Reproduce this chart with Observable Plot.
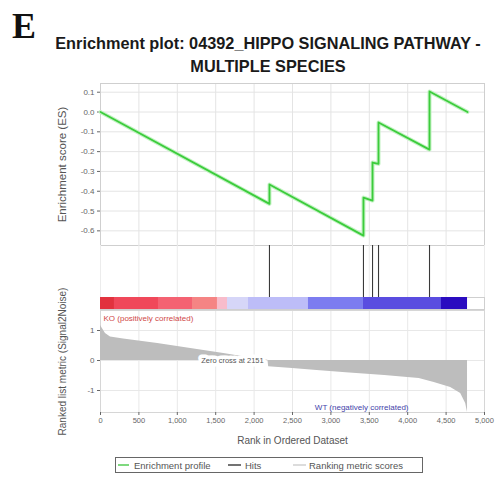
<!DOCTYPE html>
<html><head><meta charset="utf-8">
<script src="https://cdn.jsdelivr.net/npm/d3@7"></script>
<script src="https://cdn.jsdelivr.net/npm/@observablehq/plot@0.6"></script>
<style>
body{margin:0;background:#fff;}
#c{position:relative;width:495px;height:478px;overflow:hidden;background:#fff;font-family:"Liberation Sans",Arial,sans-serif;}
</style></head><body><div id="c"></div>
<script>
// ---- data ----
const esRank  = [0, 2200, 2200, 3424, 3424, 3542, 3542, 3620, 3620, 4284, 4284, 4779];
const esValue = [0, -0.464, -0.366, -0.624, -0.432, -0.447, -0.255, -0.262, -0.053, -0.19, 0.104, 0.0];
const hitRanks = [2200, 3424, 3542, 3620, 4284];
const barStart = [0, 182, 755, 1198, 1523, 1654, 1927, 2708, 3424, 4440];
const barEnd   = [182, 755, 1198, 1523, 1654, 1927, 2708, 3424, 4440, 4779];
const barPalette = ["#e2323e","#f0485a","#f46272","#f58484","#f8bccb","#d6d6f8","#bdbdf8","#7c7cf0","#5a4de0","#2a0cc0"];
const metricRank  = [0, 40, 65, 130, 300, 745, 1175, 1605, 2000, 2180, 2190, 2500, 2820, 3200, 3700, 4150, 4345, 4560, 4690, 4755, 4779];
const metricValue = [1.17, 1.0, 0.9, 0.78, 0.72, 0.57, 0.4, 0.23, 0.07, 0.01, -0.21, -0.27, -0.33, -0.41, -0.5, -0.6, -0.73, -0.9, -1.1, -1.43, -1.73];
const zeroCross = 2151;
const xTicks = [0, 500, 1000, 1500, 2000, 2500, 3000, 3500, 4000, 4500, 5000];
const esTicks = [0.1, 0, -0.1, -0.2, -0.3, -0.4, -0.5, -0.6];
const metricTicks = [1, 0, -1];
const titleLines = ["Enrichment plot: 04392_HIPPO SIGNALING PATHWAY -", "MULTIPLE SPECIES"];
const posLabel = "KO (positively correlated)";
const negLabel = "WT (negatively correlated)";

// ---- tables ----
const es = esRank.map((r, i) => ({rank: r, es: esValue[i]}));
const bars = barStart.map((s, i) => ({start: s, end: barEnd[i], color: barPalette[i]}));
const metric = metricRank.map((r, i) => ({rank: r, value: metricValue[i]}));

const W = 495, ML = 100, MR = 11;
const FONT = "'Liberation Sans', Arial, sans-serif";
const st = {fontFamily: FONT, background: "transparent", overflow: "visible"};
const xDomain = [0, 5000];
const c = document.getElementById("c");
function place(el, top) { el.style.position = "absolute"; el.style.left = "0px"; el.style.top = top + "px"; c.appendChild(el); }

// ES panel
place(Plot.plot({
  width: W, height: 171, marginLeft: ML, marginRight: MR, marginTop: 8, marginBottom: 1,
  style: st,
  x: {domain: xDomain, axis: null},
  y: {domain: [-0.674, 0.144], axis: null},
  marks: [
    Plot.gridX(xTicks, {stroke: "#e4e4e4", strokeOpacity: 1}),
    Plot.gridY(esTicks, {stroke: "#e4e4e4", strokeOpacity: 1}),
    Plot.frame({stroke: "#cfcfcf"}),
    Plot.axisY(esTicks, {anchor: "left", tickSize: 3, tickPadding: 3, tickFormat: d => d.toFixed(1), fontSize: 8, color: "#666", label: null}),
    Plot.line(es, {x: "rank", y: "es", stroke: "#c4f2c4", strokeWidth: 4}),
    Plot.line(es, {x: "rank", y: "es", stroke: "#3ccc3c", strokeWidth: 1.8}),
    Plot.text(["Enrichment score (ES)"], {frameAnchor: "left", textAnchor: "middle", rotate: -90, dx: -38, fontSize: 11.5, fill: "#555"})
  ]
}), 75);

// hits panel
place(Plot.plot({
  width: W, height: 52, marginLeft: ML, marginRight: MR, marginTop: 0, marginBottom: 0,
  style: st,
  x: {domain: xDomain, axis: null},
  marks: [
    Plot.gridX(xTicks, {stroke: "#ececec", strokeOpacity: 1}),
    Plot.ruleX(hitRanks, {stroke: "#3a3a3a", strokeWidth: 1.1})
  ]
}), 245);

// colour bar
place(Plot.plot({
  width: W, height: 12, marginLeft: ML, marginRight: MR, marginTop: 0, marginBottom: 0,
  style: st,
  x: {domain: xDomain, axis: null},
  color: {type: "identity"},
  marks: [
    Plot.frame({stroke: "#cfcfcf"}),
    Plot.rect(bars, {x1: "start", x2: "end", fill: d => d.color})
  ]
}), 297);

// ranked metric panel
place(Plot.plot({
  width: W, height: 140, marginLeft: ML, marginRight: MR, marginTop: 0, marginBottom: 38,
  style: st,
  x: {domain: xDomain, axis: null},
  y: {domain: [-1.733, 1.667], axis: null},
  marks: [
    Plot.gridX(xTicks, {stroke: "#e8e8e8", strokeOpacity: 1}),
    Plot.gridY(metricTicks, {stroke: "#e8e8e8", strokeOpacity: 1}),
    Plot.frame({stroke: "#d6d6d6"}),
    Plot.areaY(metric, {x: "rank", y: "value", fill: "#bdbdbd"}),
    Plot.axisX(xTicks, {anchor: "bottom", tickSize: 3, tickPadding: 2, tickFormat: d3.format(","), fontSize: 7.5, color: "#666", label: null}),
    Plot.axisY(metricTicks, {anchor: "left", tickSize: 3, tickPadding: 3, tickFormat: d => String(d), fontSize: 8, color: "#666", label: null}),
    Plot.text([zeroCross], {x: d => d, y: 0, text: d => "Zero cross at " + d, textAnchor: "end", dx: -2, fontSize: 7.5, fill: "#555", stroke: "white", strokeWidth: 7}),
    Plot.text([posLabel], {frameAnchor: "top-left", dx: 3, dy: 5, textAnchor: "start", fontSize: 8, fill: "#d04848"}),
    Plot.text([negLabel], {frameAnchor: "bottom-right", dx: -76, dy: -3, textAnchor: "end", fontSize: 8, fill: "#4444aa"}),
    Plot.text(["Rank in Ordered Dataset"], {frameAnchor: "bottom", textAnchor: "middle", dy: 31, fontSize: 10, fill: "#555"}),
    Plot.text(["Ranked list metric (Signal2Noise)"], {frameAnchor: "left", textAnchor: "middle", rotate: -90, dx: -38, fontSize: 10, fill: "#555"})
  ]
}), 310);

// title, panel letter, legend
const ov = d3.create("svg").attr("width", W).attr("height", 478).style("font-family", FONT).style("pointer-events", "none");
ov.append("text").attr("x", 12).attr("y", 38).attr("font-family", "'Liberation Serif', 'Times New Roman', serif")
  .attr("font-weight", "bold").attr("font-size", 36).attr("fill", "#111").text("E");
titleLines.forEach((t, i) => ov.append("text").attr("x", 268).attr("y", 49 + i * 23).attr("text-anchor", "middle")
  .attr("font-weight", "bold").attr("font-size", 16.3).attr("fill", "#1a1a1a").text(t));
const lg = ov.append("g");
lg.append("rect").attr("x", 115.5).attr("y", 457.5).attr("width", 307).attr("height", 15).attr("fill", "white").attr("stroke", "#666");
const items = [
  {label: "Enrichment profile", color: "#55cc55", x0: 118, x1: 129, tx: 134},
  {label: "Hits", color: "#444", x0: 228, x1: 241, tx: 245},
  {label: "Ranking metric scores", color: "#d0d0d0", x0: 293, x1: 306, tx: 309}
];
items.forEach(it => {
  lg.append("line").attr("x1", it.x0).attr("x2", it.x1).attr("y1", 465).attr("y2", 465).attr("stroke", it.color).attr("stroke-width", 1.5);
  lg.append("text").attr("x", it.tx).attr("y", 468.5).attr("font-size", 9.5).attr("fill", "#555").text(it.label);
});
place(ov.node(), 0);
</script></body></html>
